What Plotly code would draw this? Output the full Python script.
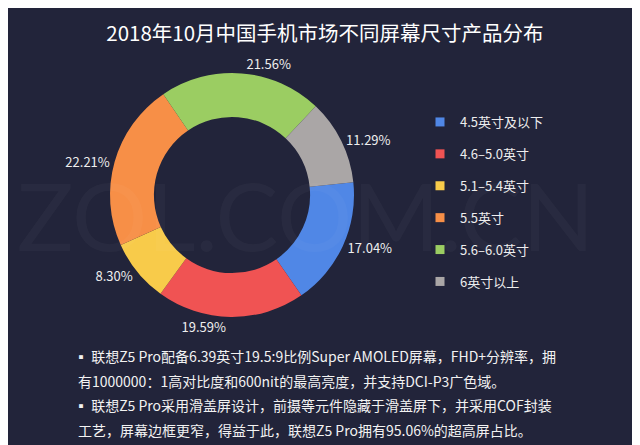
import plotly.graph_objects as go

categories = ["4.5英寸及以下", "4.6–5.0英寸", "5.1–5.4英寸", "5.5英寸", "5.6–6.0英寸", "6英寸以上"]
shares = [17.04, 19.59, 8.30, 22.21, 21.56, 11.29]
colors = ["#5087e6", "#f05353", "#f8cb4a", "#f78f47", "#9bcd62", "#aaa6a6"]

title_text = "2018年10月中国手机市场不同屏幕尺寸产品分布"
notes = [
    "▪ 联想Z5 Pro配备6.39英寸19.5:9比例Super AMOLED屏幕，FHD+分辨率，拥",
    "有1000000：1高对比度和600nit的最高亮度，并支持DCI-P3广色域。",
    "▪ 联想Z5 Pro采用滑盖屏设计，前摄等元件隐藏于滑盖屏下，并采用COF封装",
    "工艺，屏幕边框更窄，得益于此，联想Z5 Pro拥有95.06%的超高屏占比。",
]
watermark = "ZOL.COM.CN"

BG = "#22243a"
FONT = "Noto Sans CJK SC"
W, H = 640, 445
OX, OY = 8, 8  # page offset of the plot inside the browser window


def px(x):
    return (x - OX) / W


def py(y):
    return 1 - (y - OY) / H


fig = go.Figure()

fig.add_trace(go.Pie(
    labels=categories,
    values=shares,
    hole=0.64,
    sort=False,
    direction="clockwise",
    rotation=84,
    marker=dict(colors=colors, line=dict(width=0)),
    texttemplate="%{value:.2f}%",
    textposition="outside",
    outsidetextfont=dict(color="#eeeeee", size=13, family=FONT),
    showlegend=False,
    domain=dict(x=[px(110), px(354)], y=[py(317), py(73)]),
    hoverinfo="label+percent",
))

for i, (name, col) in enumerate(zip(categories, colors)):
    fig.add_trace(go.Scatter(
        x=[None], y=[None], mode="markers", name=name,
        marker=dict(symbol="square", size=9, color=col),
        legendgroup=f"g{i}", showlegend=True,
    ))

fig.add_annotation(
    x=px(305), y=py(214), xref="paper", yref="paper",
    text=watermark, showarrow=False,
    font=dict(family="Lato", size=94, color="rgba(255,255,255,0.03)"),
)

line_y = [356, 381, 405, 430]
line_x = [72, 76, 72, 76]
for t, yy, xx in zip(notes, line_y, line_x):
    fig.add_annotation(
        x=px(xx), y=py(yy), xref="paper", yref="paper",
        xanchor="left", yanchor="middle", text=t, showarrow=False,
        font=dict(family=FONT, size=14, color="#f2f2f2"),
    )

fig.update_layout(
    width=W, height=H,
    paper_bgcolor=BG, plot_bgcolor=BG,
    margin=dict(l=0, r=0, t=0, b=0),
    title=dict(text=title_text, x=px(325), xanchor="center", y=py(34), yanchor="middle",
               font=dict(family=FONT, size=20.5, color="#ffffff")),
    xaxis=dict(visible=False), yaxis=dict(visible=False),
    legend=dict(x=px(420), y=py(107), xanchor="left", yanchor="top",
                font=dict(family=FONT, size=13, color="#eeeeee"),
                tracegroupgap=12, bgcolor="rgba(0,0,0,0)", itemwidth=30),
)

fig.write_html("out.html")
